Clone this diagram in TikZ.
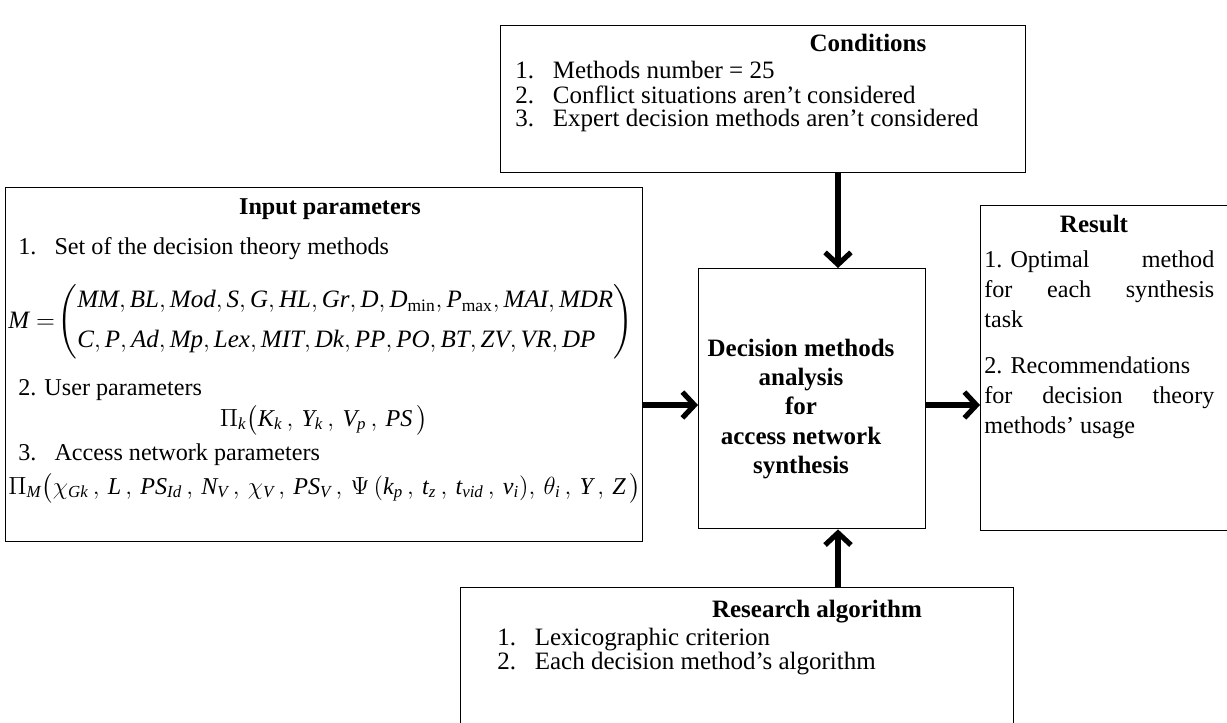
\documentclass[tikz,border=0pt]{standalone}
\usepackage{fontspec}
\setmainfont{Liberation Serif}
\usepackage{amsmath}
\usetikzlibrary{arrows.meta,positioning,calc}
\newdimen\px \px=0.58pt
\newcommand{\vi}[1]{\mathit{#1}}
\newcommand{\cm}{\,,\hspace{2.4pt}}
\newcommand{\num}[1]{\makebox[1.5em][l]{#1}}
\newcommand{\jline}[1]{\makebox[230\px][s]{#1}}

\begin{document}
\begin{tikzpicture}[x=0.58pt,y=-0.58pt,
  panel/.style={draw,line width=0.8pt,inner sep=0pt,anchor=north west},
  heading/.style={inner sep=0pt,font=\bfseries\fontsize{14.5}{16}\selectfont},
  item/.style={anchor=west,inner sep=0pt,font=\fontsize{14.5}{16}\selectfont},
  initem/.style={anchor=west,inner sep=0pt,font=\fontsize{14}{16}\selectfont},
  resline/.style={anchor=north west,align=left,inner sep=0pt,font=\fontsize{14}{17.4}\selectfont},
  flow/.style={line width=3pt,-{Straight Barb[length=7pt,width=15pt]}}
]
\useasboundingbox (0,0) rectangle (1227,722);

% boxes
\node[panel,minimum width=525\px,minimum height=147\px] (cond) at (500,25) {};
\node[panel,minimum width=637\px,minimum height=354\px] (inp) at (5,187) {};
\node[panel,minimum width=227\px,minimum height=260\px] (ctr) at (698,268) {};
\node[panel,minimum width=270\px,minimum height=325\px] (res) at (980,205) {};
\node[panel,minimum width=553\px,minimum height=150\px] (alg) at (460,587) {};

% conditions
\node[heading] (condT) at (868,43) {Conditions};
\node[item] (c1) at (515,70) {\num{1.}Methods number = 25};
\node[item] (c2) at (515,95) {\num{2.}Conflict situations aren't considered};
\node[item] (c3) at (515,120) {\num{3.}Expert decision methods aren't considered};

% input parameters
\node[heading,font=\bfseries\fontsize{14}{16}\selectfont] (inpT) at (330,209) {Input parameters};
\node[initem] (i1) at (18,249) {\num{1.}Set of the decision theory methods};
\node[anchor=west,inner sep=0pt,font=\fontsize{14.5}{16}\selectfont] (mset) at (8,322)
  {$\vi{M}=\!\left(\begin{array}{@{}l@{}}
    \vi{MM},\vi{BL},\vi{Mod},\vi{S},\vi{G},\vi{HL},\vi{Gr},\vi{D},\vi{D}_{\mathrm{min}},\vi{P}_{\mathrm{max}},\vi{MAI},\vi{MDR}\\[7pt]
    \vi{C},\vi{P},\vi{Ad},\vi{Mp},\vi{Lex},\vi{MIT},\vi{Dk},\vi{PP},\vi{PO},\vi{BT},\vi{ZV},\vi{VR},\vi{DP}
  \end{array}\right)$};
\node[initem] (i2) at (18,390) {2. User parameters};
\node[inner sep=0pt,font=\fontsize{14}{16}\selectfont] (pk) at (324,420)
  {$\Pi_{\vi{k}}\big(\vi{K}_{\vi{k}}\cm\vi{Y}_{\vi{k}}\cm\vi{V}_{\vi{p}}\cm\vi{PS}\,\big)$};
\node[initem] (i3) at (18,455) {\num{3.}Access network parameters};
\node[anchor=west,inner sep=0pt,font=\fontsize{14}{16}\selectfont] (pm) at (8,488)
  {$\Pi_{\vi{M}}\big(\chi_{\vi{Gk}}\cm\vi{L}\cm\vi{PS}_{\vi{Id}}\cm\vi{N}_{\vi{V}}\cm\chi_{\vi{V}}\cm\vi{PS}_{\vi{V}}\cm
    \Psi\,(\vi{k}_{\vi{p}}\cm\vi{t}_{\vi{z}}\cm\vi{t}_{\vi{vid}}\cm\vi{v}_{\vi{i}}),\,\theta_{\vi{i}}\cm\vi{Y}\cm\vi{Z}\,\big)$};

% centre
\node[align=center,inner sep=0pt,font=\bfseries\fontsize{14.5}{17.1}\selectfont] (ctrT) at (801,409)
  {Decision methods\\analysis\\for\\access network\\synthesis};

% result
\node[heading] (resT) at (1094,224) {Result};
\node[resline] (r1) at (984,250)
  {\jline{\mbox{1. Optimal} method}\\\jline{for each synthesis}\\task};
\node[resline] (r2) at (984,356)
  {2. Recommendations\\\jline{for decision theory}\\methods' usage};

% research algorithm
\node[heading] (algT) at (817,612) {Research algorithm};
\node[item] (a1) at (497,640) {\num{1.}Lexicographic criterion};
\node[item] (a2) at (497,664) {\num{2.}Each decision method's algorithm};

% arrows
\coordinate (lvl) at (0,405);
\coordinate (ax) at (838,0);
\draw[flow] (cond.south -| ax) -- (ctr.north -| ax);
\draw[flow] (inp.east |- lvl) -- (ctr.west |- lvl);
\draw[flow] (ctr.east |- lvl) -- (res.west |- lvl);
\draw[flow] (alg.north -| ax) -- (ctr.south -| ax);
\end{tikzpicture}
\end{document}
